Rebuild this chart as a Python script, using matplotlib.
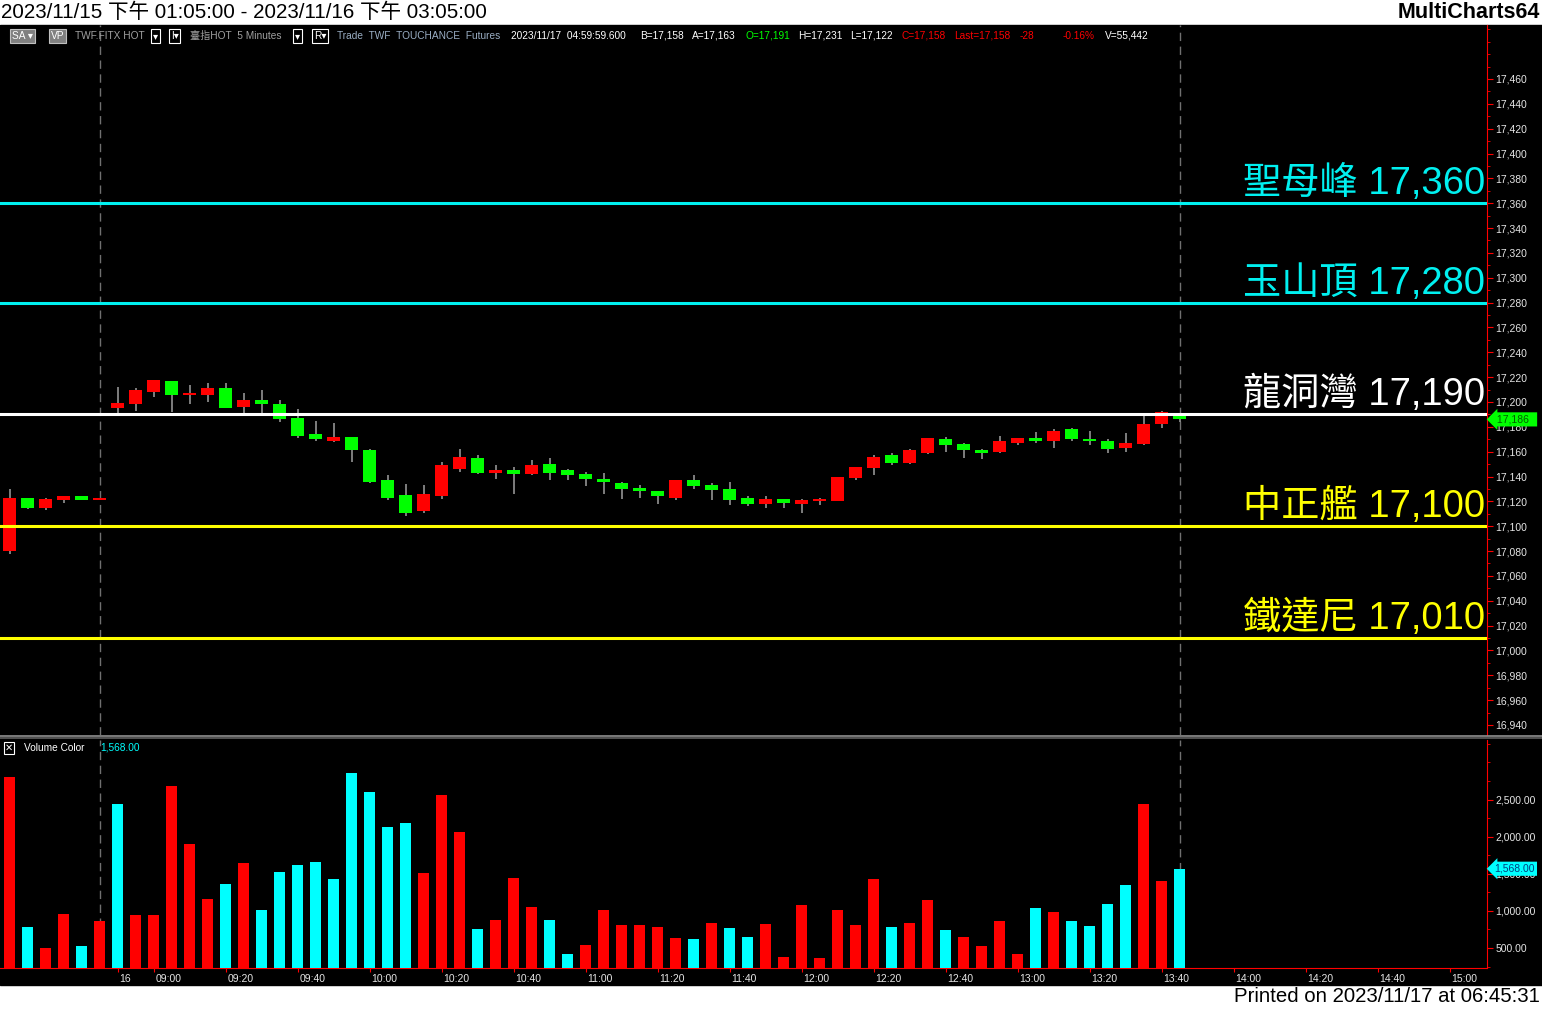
import numpy as np
import matplotlib
matplotlib.use('Agg')
import matplotlib.pyplot as plt
import matplotlib.transforms as mtransforms
from matplotlib.patches import Rectangle
from matplotlib.ticker import MultipleLocator

plt.rcParams['font.family'] = ['Liberation Sans', 'Noto Sans CJK TC', 'DejaVu Sans']

# 5 minute bars, TWF.FITX
opens = [17080, 17123, 17115, 17121, 17124, 17121, 17195, 17198, 17208, 17217,
         17206, 17206, 17211, 17196, 17202, 17198, 17187, 17174, 17169, 17172,
         17161, 17137, 17125, 17112, 17124, 17146, 17155, 17143, 17145, 17142,
         17150, 17145, 17142, 17138, 17135, 17131, 17128, 17123, 17137, 17133,
         17130, 17123, 17118, 17122, 17118, 17120, 17120, 17139, 17147, 17157,
         17151, 17159, 17170, 17166, 17161, 17160, 17167, 17171, 17169, 17178,
         17170, 17169, 17163, 17166, 17182, 17189]
highs = [17130, 17123, 17123, 17124, 17124, 17123, 17212, 17211, 17218, 17217,
         17214, 17215, 17215, 17207, 17210, 17202, 17194, 17185, 17183, 17172,
         17162, 17141, 17134, 17133, 17152, 17162, 17157, 17149, 17148, 17153,
         17155, 17146, 17144, 17143, 17136, 17133, 17128, 17137, 17141, 17135,
         17136, 17124, 17124, 17122, 17122, 17123, 17140, 17148, 17157, 17159,
         17162, 17171, 17172, 17167, 17162, 17173, 17171, 17176, 17178, 17179,
         17177, 17170, 17175, 17190, 17193, 17190]
lows = [17078, 17114, 17113, 17119, 17121, 17121, 17191, 17193, 17204, 17192,
        17198, 17200, 17195, 17191, 17191, 17184, 17171, 17169, 17168, 17152,
        17135, 17121, 17108, 17111, 17122, 17144, 17142, 17138, 17126, 17141,
        17137, 17137, 17132, 17126, 17122, 17123, 17118, 17121, 17130, 17121,
        17117, 17116, 17115, 17115, 17111, 17117, 17120, 17137, 17141, 17149,
        17150, 17158, 17160, 17155, 17154, 17159, 17165, 17167, 17163, 17169,
        17165, 17159, 17160, 17165, 17179, 17184]
closes = [17123, 17115, 17122, 17124, 17121, 17122.5, 17199, 17210, 17218, 17206,
          17207, 17211, 17195, 17202, 17198, 17186, 17173, 17170, 17172, 17161,
          17136, 17123, 17111, 17126, 17149, 17156, 17143, 17145, 17142, 17149,
          17143, 17141, 17138, 17136, 17130, 17128, 17124, 17137, 17132, 17129,
          17121, 17118, 17122, 17119, 17121, 17122, 17140, 17148, 17156, 17151,
          17161, 17171, 17165, 17161, 17159, 17169, 17171, 17169, 17177, 17170,
          17169, 17162, 17167, 17182, 17192, 17186]
volumes = [2805, 783, 500, 958, 527, 864, 2441, 945, 945, 2683,
           1902, 1160, 1362, 1645, 1012, 1524, 1618, 1659, 1430, 2858,
           2603, 2131, 2185, 1511, 2562, 2063, 756, 877, 1443, 1053,
           877, 419, 540, 1012, 810, 810, 783, 635, 621, 837,
           770, 648, 823, 379, 1079, 365, 1012, 810, 1430, 783,
           837, 1147, 743, 648, 527, 864, 419, 1039, 985, 864,
           796, 1093, 1349, 2441, 1403, 1568]
vol_up = "rcrrcrcrrrrrcrcccccccccrrrcrrrccrrrrrrcrccrrrrrrrcrrcrrrrcrccccrrc"

# x axis labels (bar index -> text)
xtick_idx = [6, 8, 12, 16, 20, 24, 28, 32, 36, 40, 44, 48, 52, 56, 60, 64, 68, 72, 76, 80]
xtick_txt = ['16', '09:00', '09:20', '09:40', '10:00', '10:20', '10:40', '11:00', '11:20',
             '11:40', '12:00', '12:20', '12:40', '13:00', '13:20', '13:40', '14:00',
             '14:20', '14:40', '15:00']

# support / resistance levels
levels = [17360, 17280, 17190, 17100, 17010]
level_names = ['聖母峰', '玉山頂', '龍洞灣', '中正艦', '鐵達尼']
level_colors = ['#00F0F0', '#00F0F0', '#FFFFFF', '#FFFF00', '#FFFF00']

last_price = 17186
last_volume = 1568
session_break = 5
last_bar = 65

W, H = 1542, 1009
fig = plt.figure(figsize=(W / 100, H / 100), dpi=100, facecolor='white')


def fy(py):
    return 1 - py / H


fig.add_artist(Rectangle((0, fy(985)), 1, 960 / H, transform=fig.transFigure,
                         color='black', zorder=0))

ax = fig.add_axes([0, fy(735), 1487 / W, 710 / H], facecolor='black')
axv = fig.add_axes([0, fy(968), 1487 / W, 228 / H], facecolor='black')

n = len(opens)
x = np.arange(n)
o = np.array(opens, dtype=float)
c = np.array(closes, dtype=float)
up = c >= o
col = np.where(up, '#FF0000', '#00FF00')

ax.vlines(x, lows, highs, color='#A0A0A0', lw=1.1, zorder=2)
body = np.maximum(np.abs(c - o), 1.2)
ax.bar(x, body, bottom=np.minimum(o, c), width=0.72, color=col, zorder=3)

tr = mtransforms.blended_transform_factory(ax.transAxes, ax.transData)
tr = tr + mtransforms.ScaledTranslation(0, 9 / 100, fig.dpi_scale_trans)
for lvl, name, lc in zip(levels, level_names, level_colors):
    ax.axhline(lvl, color=lc, lw=2.2, zorder=4)
    ax.text(0.9988, lvl, f'{name} {lvl:,}', transform=tr, ha='right', va='baseline',
            color=lc, fontsize=27.5, zorder=5)

for a in (ax, axv):
    a.axvline(session_break, color='#707070', lw=1, ls=(0, (6, 4)), zorder=1)
    a.axvline(last_bar, color='#707070', lw=1, ls=(0, (6, 4)), zorder=1)
    a.set_xlim(-0.528, 82.08)
    for s in ('left', 'top'):
        a.spines[s].set_visible(False)
    a.spines['right'].set_color('#FF0000')
    a.yaxis.tick_right()
    a.tick_params(axis='y', colors='#FF0000', labelcolor='#E6E6E6', labelsize=7.5,
                  length=4, pad=2, which='major')
    a.tick_params(axis='y', which='minor', colors='#FF0000', length=2)

ax.spines['bottom'].set_visible(False)
ax.set_ylim(17460 - 656 / 1.2423, 17460 + 54 / 1.2423)
ax.set_yticks(np.arange(16940, 17461, 20))
ax.set_yticklabels([f'{v:,}' for v in range(16940, 17461, 20)])
ax.yaxis.set_minor_locator(MultipleLocator(10))
ax.set_xticks([])

vcol = ['#FF0000' if ch == 'r' else '#00FFFF' for ch in vol_up]
axv.bar(x, volumes, width=0.6, color=vcol, zorder=3)
axv.set_ylim(230.5, 3303)
axv.set_yticks([500, 1000, 1500, 2000, 2500])
axv.set_yticklabels(['500.00', '1,000.00', '1,500.00', '2,000.00', '2,500.00'])
axv.yaxis.set_minor_locator(MultipleLocator(250))
axv.spines['bottom'].set_color('#FF0000')
axv.set_xticks(xtick_idx)
axv.set_xticklabels(xtick_txt)
axv.tick_params(axis='x', colors='#FF0000', labelcolor='#E6E6E6', labelsize=7.5,
                length=3, pad=1)
shift = mtransforms.ScaledTranslation(2 / 100, 0, fig.dpi_scale_trans)
for lbl in axv.get_xticklabels():
    lbl.set_horizontalalignment('left')
    lbl.set_transform(lbl.get_transform() + shift)

# last value tags
btr = mtransforms.blended_transform_factory(ax.transAxes, ax.transData)
ax.text(1.005, last_price, f' {last_price:,}  ', transform=btr, ha='left', va='center',
        fontsize=7.5, color='#006000', clip_on=False, zorder=6,
        bbox=dict(boxstyle='larrow,pad=0.2', fc='#00FF00', ec='none'))
btv = mtransforms.blended_transform_factory(axv.transAxes, axv.transData)
axv.text(1.005, last_volume, f'{last_volume:,.2f}', transform=btv, ha='left', va='center',
         fontsize=7.5, color='#004080', clip_on=False, zorder=6,
         bbox=dict(boxstyle='larrow,pad=0.2', fc='#00FFFF', ec='none'))

# panel separator
for yy, cc in ((735.5, '#909090'), (738, '#606060')):
    fig.add_artist(plt.Line2D([0, 1], [fy(yy), fy(yy)], transform=fig.transFigure,
                              color=cc, lw=1.2))

# header / footer
fig.text(1 / W, fy(12), '2023/11/15 下午 01:05:00 - 2023/11/16 下午 03:05:00',
         fontsize=14.8, va='center', ha='left', color='black')
fig.text(1540 / W, fy(12), 'MultiCharts64', fontsize=15.5, fontweight='bold',
         va='center', ha='right', color='black')
fig.text(1540 / W, fy(997), 'Printed on 2023/11/17 at 06:45:31', fontsize=14.7,
         va='center', ha='right', color='black')

# status line
status = [
    (12, 'SA ▾', '#FFFFFF', '#808080'),
    (51, 'VP', '#FFFFFF', '#808080'),
    (75, 'TWF.FITX HOT', '#A0A0A0', None),
    (153, '▾', '#FFFFFF', 'box'),
    (171, 'I▾', '#FFFFFF', 'box'),
    (190, '臺指HOT  5 Minutes', '#A0A0A0', None),
    (295, '▾', '#FFFFFF', 'box'),
    (314, 'R▾', '#FFFFFF', 'box'),
    (337, 'Trade  TWF  TOUCHANCE  Futures', '#9AAEC4', None),
    (511, '2023/11/17  04:59:59.600', '#FFFFFF', None),
    (640, 'B=17,158', '#FFFFFF', None),
    (692, 'A=17,163', '#FFFFFF', None),
    (745, 'O=17,191', '#00FF00', None),
    (798, 'H=17,231', '#FFFFFF', None),
    (850, 'L=17,122', '#FFFFFF', None),
    (902, 'C=17,158', '#FF0000', None),
    (954, 'Last=17,158', '#FF0000', None),
    (1020, '-28', '#FF0000', None),
    (1063, '-0.16%', '#FF0000', None),
    (1105, 'V=55,442', '#FFFFFF', None),
]
for px, txt, tc, bg in status:
    kw = {}
    if bg == 'box':
        kw['bbox'] = dict(boxstyle='square,pad=0.15', fc='black', ec='#FFFFFF', lw=0.8)
    elif bg:
        kw['bbox'] = dict(boxstyle='square,pad=0.15', fc=bg, ec='#C0C0C0', lw=0.8)
    fig.text(px / W, fy(36), txt, fontsize=7.3, color=tc, va='center', ha='left', **kw)

fig.text(5 / W, fy(748), '✕', fontsize=7, color='#FFFFFF', va='center', ha='left',
         bbox=dict(boxstyle='square,pad=0.1', fc='black', ec='#FFFFFF', lw=0.8))
fig.text(24 / W, fy(748), 'Volume Color', fontsize=7.3, color='#FFFFFF', va='center')
fig.text(100 / W, fy(748), f'{last_volume:,.2f}', fontsize=7.3, color='#00FFFF', va='center')

fig.savefig('out.png', dpi=100, facecolor='white')
